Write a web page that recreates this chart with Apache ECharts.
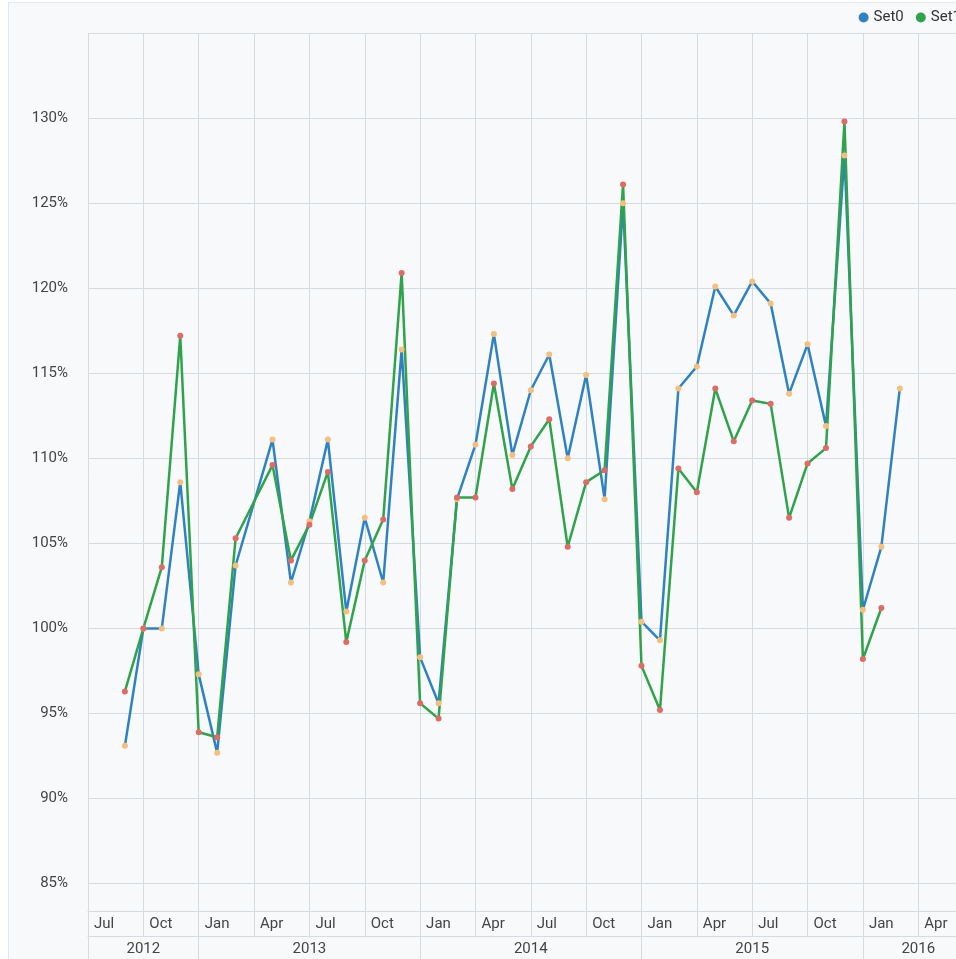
<!DOCTYPE html>
<html>
<head>
<meta charset="utf-8">
<script src="https://cdn.jsdelivr.net/npm/echarts@6/dist/echarts.min.js"></script>
<style>
  html, body {
    margin: 0;
    padding: 0;
    width: 956px;
    height: 959px;
    overflow: hidden;
    background: #ffffff;
  }
  #chart {
    position: absolute;
    left: 8px;
    top: 2px;
    width: 1000px;
    height: 1000px;
    border: 1px solid #e3e7ec;
    background: #f7f9fb;
  }
</style>
</head>
<body>
<div id="chart"></div>
<script>
// months of the data points (Apr 2013 has no value)
const months = [
  '2012-09', '2012-10', '2012-11', '2012-12',
  '2013-01', '2013-02', '2013-03', '2013-05', '2013-06', '2013-07', '2013-08',
  '2013-09', '2013-10', '2013-11', '2013-12',
  '2014-01', '2014-02', '2014-03', '2014-04', '2014-05', '2014-06', '2014-07',
  '2014-08', '2014-09', '2014-10', '2014-11', '2014-12',
  '2015-01', '2015-02', '2015-03', '2015-04', '2015-05', '2015-06', '2015-07',
  '2015-08', '2015-09', '2015-10', '2015-11', '2015-12',
  '2016-01', '2016-02', '2016-03'
]
const set0 = [
  93.1, 100.0, 100.0, 108.6,
  97.3, 92.7, 103.7, 111.1, 102.7, 106.3, 111.1,
  101.0, 106.5, 102.7, 116.4,
  98.3, 95.6, 107.6, 110.8, 117.3, 110.2, 114.0,
  116.1, 110.0, 114.9, 107.6, 125.0,
  100.4, 99.3, 114.1, 115.4, 120.1, 118.4, 120.4,
  119.1, 113.8, 116.7, 111.9, 127.8,
  101.1, 104.8, 114.1
]
const set1 = [
  96.3, 100.0, 103.6, 117.2,
  93.9, 93.6, 105.3, 109.6, 104.0, 106.1, 109.2,
  99.2, 104.0, 106.4, 120.9,
  95.6, 94.7, 107.7, 107.7, 114.4, 108.2, 110.7,
  112.3, 104.8, 108.6, 109.3, 126.1,
  97.8, 95.2, 109.4, 108.0, 114.1, 111.0, 113.4,
  113.2, 106.5, 109.7, 110.6, 129.8,
  98.2, 101.2, null
]
const quarterLabels = ['Jul', 'Oct', 'Jan', 'Apr']
const yearLabels = ['2012', '2013', '2014', '2015', '2016']

// month index counted from Jul 2012
const monthIndex = (m) => {
  const [y, mo] = m.split('-').map(Number)
  return (y - 2012) * 12 + (mo - 7)
}
const toPoints = (vals) =>
  months.map((m, i) => [monthIndex(m), vals[i]]).filter((p) => p[1] != null)

const font = 'Roboto, "Noto Sans", sans-serif'
const gridColor = '#d6dbe0'
const blue = '#2f82c2'
const green = '#2fa34a'

const chart = echarts.init(document.getElementById('chart'))
chart.setOption({
  animation: false,
  textStyle: { fontFamily: font },
  legend: {
    right: 43,
    top: 2,
    icon: 'circle',
    itemWidth: 10,
    itemHeight: 10,
    itemGap: 12,
    textStyle: { fontSize: 15, color: '#333', fontFamily: font },
    data: [
      { name: 'Set0', itemStyle: { color: blue } },
      { name: 'Set1', itemStyle: { color: green } },
    ],
  },
  grid: {
    left: 79,
    right: 35.4,
    top: 30,
    bottom: 91.3,
  },
  xAxis: [
    {
      type: 'value',
      min: 0,
      max: 48,
      interval: 3,
      position: 'bottom',
      axisLine: { show: true, lineStyle: { color: gridColor, width: 1 } },
      axisTick: { show: true, length: 25, lineStyle: { color: gridColor } },
      splitLine: { show: true, lineStyle: { color: gridColor } },
      axisLabel: {
        showMaxLabel: false,
        align: 'left',
        margin: 5,
        padding: [0, 0, 0, 6],
        fontSize: 15,
        color: '#444',
        formatter: (v) => quarterLabels[(v / 3) % 4],
      },
    },
    {
      type: 'value',
      min: 0,
      max: 48,
      position: 'bottom',
      offset: 25,
      axisLine: { show: true, lineStyle: { color: gridColor, width: 1 } },
      axisTick: {
        show: true,
        length: 25,
        customValues: [0, 6, 18, 30, 42],
        lineStyle: { color: gridColor },
      },
      splitLine: { show: false },
      axisLabel: {
        customValues: [3, 12, 24, 36, 45],
        margin: 5,
        fontSize: 15,
        color: '#444',
        formatter: (v) => yearLabels[Math.floor((v + 6) / 12)],
      },
    },
  ],
  yAxis: {
    type: 'value',
    min: 83.35,
    max: 135,
    splitNumber: 10,
    minInterval: 5,
    maxInterval: 5,
    axisLine: { show: false },
    axisTick: { show: false },
    splitLine: { show: true, lineStyle: { color: gridColor } },
    axisLabel: {
      showMinLabel: false,
      showMaxLabel: false,
      margin: 20,
      fontSize: 15,
      color: '#444',
      formatter: (v) => v + '%',
    },
  },
  series: [
    {
      name: 'Set0',
      type: 'line',
      data: toPoints(set0),
      symbol: 'circle',
      symbolSize: 6,
      color: blue,
      lineStyle: { color: blue, width: 2.5 },
      itemStyle: { color: '#f6bf7c' },
    },
    {
      name: 'Set1',
      type: 'line',
      data: toPoints(set1),
      symbol: 'circle',
      symbolSize: 6,
      color: green,
      lineStyle: { color: green, width: 2.5 },
      itemStyle: { color: '#e06a66' },
    },
  ],
})
</script>
</body>
</html>
